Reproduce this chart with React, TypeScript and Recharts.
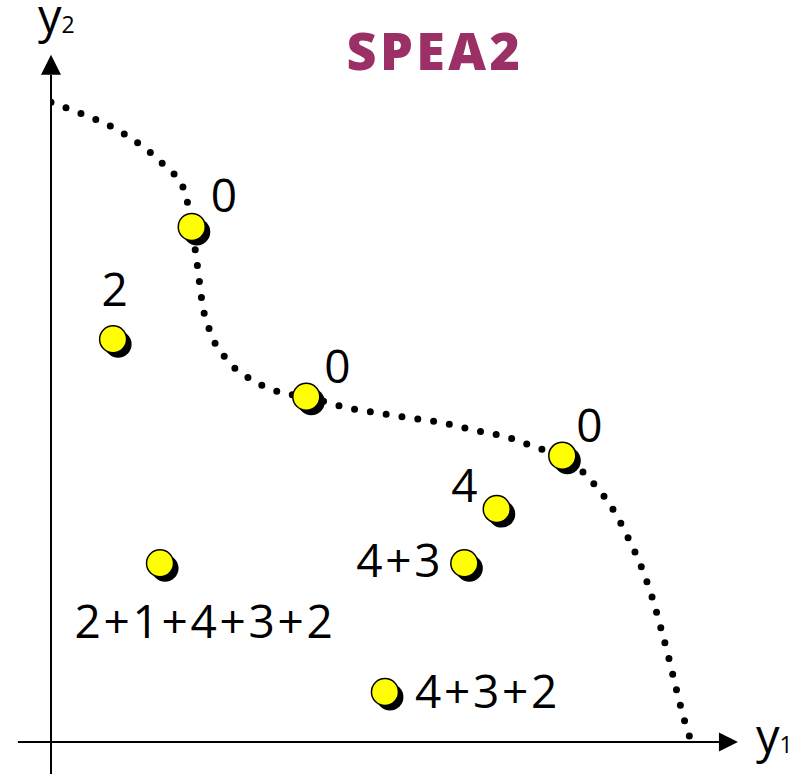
import { ComposedChart, XAxis, YAxis, Line, Scatter, ReferenceLine } from 'recharts';

// dotted Pareto front (y1, y2)
const frontY1 = [0, 0.45, 0.88, 1.28, 1.64, 1.93, 2.04, 2.13, 2.19, 2.32, 2.57, 2.94, 3.38, 3.7, 4.29, 4.75, 5.22, 5.68, 6.14, 6.61, 7.06, 7.41, 7.84, 8.13, 8.36, 8.55, 8.71, 8.84, 8.96, 9.07, 9.19, 9.26];
const frontY2 = [9.34, 9.17, 8.98, 8.73, 8.42, 8.06, 7.52, 6.89, 6.42, 5.96, 5.56, 5.27, 5.09, 5.04, 4.88, 4.8, 4.73, 4.66, 4.55, 4.45, 4.29, 4.18, 3.8, 3.42, 2.99, 2.57, 2.12, 1.66, 1.2, 0.74, 0.28, 0.06];

// individuals and their SPEA2 strength sums
const pointY1 = [2.04, 0.9, 3.7, 7.41, 6.46, 5.99, 1.58, 4.84];
const pointY2 = [7.52, 5.88, 5.04, 4.18, 3.4, 2.61, 2.61, 0.73];
const pointLabels = ['0', '2', '0', '0', '4', '4+3', '2+1+4+3+2', '4+3+2'];

// where each label sits relative to its dot
const labelPlacement: { dx: number; dy: number; anchor: 'start' | 'middle' | 'end' }[] = [
  { dx: 19, dy: -15, anchor: 'start' },
  { dx: 3, dy: -33, anchor: 'middle' },
  { dx: 18, dy: -14, anchor: 'start' },
  { dx: 14, dy: -14, anchor: 'start' },
  { dx: -31, dy: -7, anchor: 'middle' },
  { dx: -21, dy: 14, anchor: 'end' },
  { dx: 45, dy: 75, anchor: 'middle' },
  { dx: 30, dy: 16, anchor: 'start' },
];

const frontData = frontY1.map((x, i) => ({ x, y: frontY2[i] }));
const pointData = pointY1.map((x, i) => ({ x, y: pointY2[i], label: pointLabels[i], i }));

const FONT = '"Open Sans", sans-serif';

const PointShape = (props: any) => {
  const { cx, cy, payload } = props;
  const p = labelPlacement[payload.i];
  return (
    <g>
      <circle cx={cx + 5} cy={cy + 5} r={13.5} fill="#000" />
      <circle cx={cx} cy={cy} r={13.5} fill="#FFFF00" stroke="#000" strokeWidth={1.5} />
      <text
        x={cx + p.dx}
        y={cy + p.dy}
        textAnchor={p.anchor}
        fontFamily={FONT}
        fontSize={46}
        letterSpacing={2.7}
        fill="#000"
      >
        {payload.label}
      </text>
    </g>
  );
};

const VerticalArrow = (props: any) => {
  const { x1, y1, y2 } = props;
  const top = Math.min(y1, y2);
  const bottom = Math.max(y1, y2);
  return (
    <g>
      <line x1={x1} y1={bottom} x2={x1} y2={top} stroke="#000" strokeWidth={2} />
      <polygon points={`${x1 - 10},${top} ${x1 + 10},${top} ${x1},${top - 20}`} fill="#000" />
      <text x={x1 - 13} y={top - 42} fontFamily={FONT} fontSize={47} fill="#000">
        y<tspan fontSize={23}>2</tspan>
      </text>
    </g>
  );
};

const HorizontalArrow = (props: any) => {
  const { x1, x2, y1 } = props;
  const left = Math.min(x1, x2);
  const right = Math.max(x1, x2);
  return (
    <g>
      <line x1={left} y1={y1} x2={right} y2={y1} stroke="#000" strokeWidth={2} />
      <polygon points={`${right},${y1 - 9.5} ${right},${y1 + 9.5} ${right + 19},${y1}`} fill="#000" />
      <text x={right + 37} y={y1 + 11} fontFamily={FONT} fontSize={47} fill="#000">
        y<tspan fontSize={23}>1</tspan>
      </text>
    </g>
  );
};

export default function App() {
  return (
    <div style={{ position: 'absolute', left: 0, top: 0, width: 810, height: 774, background: '#fff' }}>
      <ComposedChart width={810} height={774} margin={{ top: 57, right: 69, left: 51, bottom: 32 }}>
        <XAxis type="number" dataKey="x" domain={[0, 10]} hide allowDataOverflow />
        <YAxis type="number" dataKey="y" domain={[0, 10]} hide allowDataOverflow />
        <ReferenceLine
          segment={[{ x: 0, y: -0.47 }, { x: 0, y: 9.74 }]}
          ifOverflow="visible"
          shape={VerticalArrow}
        />
        <ReferenceLine
          segment={[{ x: -0.48, y: 0 }, { x: 9.68, y: 0 }]}
          ifOverflow="visible"
          shape={HorizontalArrow}
        />
        <Line
          data={frontData}
          dataKey="y"
          type="monotoneX"
          stroke="#000"
          strokeWidth={7}
          strokeDasharray="0 16"
          strokeLinecap="round"
          dot={false}
          activeDot={false}
          isAnimationActive={false}
        />
        <Scatter data={pointData} dataKey="y" shape={PointShape} isAnimationActive={false} />
      </ComposedChart>
      <svg width={810} height={100} style={{ position: 'absolute', left: 0, top: 0, pointerEvents: 'none' }}>
        <text x={435} y={70} textAnchor="middle" fontFamily={FONT} fontWeight={800} fontSize={52} letterSpacing={3.5} fill="#9B3067">
          SPEA2
        </text>
      </svg>
    </div>
  );
}
